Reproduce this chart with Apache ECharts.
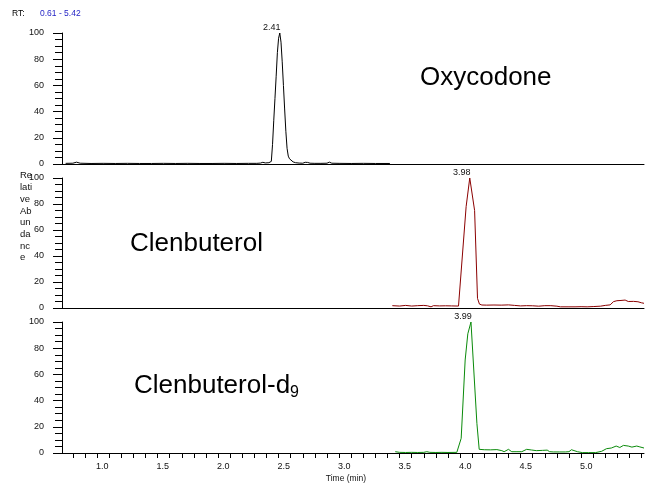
<!DOCTYPE html>
<html>
<head>
<meta charset="utf-8">
<script src="https://cdn.jsdelivr.net/npm/echarts@6/dist/echarts.min.js"></script>
<style>
  html, body { margin: 0; padding: 0; background: #fff; }
  #chart { width: 652px; height: 487px; }
</style>
</head>
<body>
<div id="chart"></div>
<script>
// Retention-time window shown on every trace (min)
const timeMin = 0.61;
const timeMax = 5.42;

// Oxycodone trace (time in min, relative abundance in %)
const oxyTime = [0.64, 0.70, 0.73, 0.76, 0.85, 0.95, 1.05, 1.15, 1.25, 1.35, 1.45, 1.55, 1.65, 1.75, 1.85, 1.95,
  2.05, 2.15, 2.22, 2.25, 2.27, 2.29, 2.32, 2.34, 2.35, 2.36, 2.37, 2.38, 2.39, 2.40, 2.41, 2.42, 2.43, 2.44,
  2.45, 2.46, 2.47, 2.48, 2.49, 2.50, 2.52, 2.54, 2.57, 2.60, 2.62, 2.63, 2.64, 2.66, 2.70, 2.75, 2.80, 2.82,
  2.84, 2.90, 3.00, 3.10, 3.20, 3.32];
const oxyAbund = [0.5, 0.6, 1.4, 0.6, 0.4, 0.5, 0.4, 0.5, 0.4, 0.4, 0.5, 0.4, 0.5, 0.4, 0.4, 0.5,
  0.4, 0.5, 0.5, 0.7, 1.3, 0.8, 1.0, 2.0, 15, 33, 50, 67, 85, 96, 100, 93, 78, 60,
  42, 25, 12, 6, 4, 2.6, 1.6, 1.0, 0.7, 0.6, 1.3, 0.6, 1.2, 0.6, 0.5, 0.5, 0.6, 1.4,
  0.6, 0.5, 0.4, 0.5, 0.4, 0.4];

// Clenbuterol trace
const clenTime = [3.34, 3.40, 3.45, 3.50, 3.55, 3.60, 3.63, 3.66, 3.68, 3.73, 3.78, 3.83, 3.887, 3.95, 3.98,
  4.02, 4.044, 4.06, 4.08, 4.12, 4.18, 4.24, 4.30, 4.35, 4.40, 4.45, 4.50, 4.55, 4.60, 4.65, 4.70, 4.73,
  4.80, 4.85, 4.90, 4.95, 5.00, 5.06, 5.10, 5.14, 5.168, 5.196, 5.23, 5.264, 5.29, 5.306, 5.333, 5.37, 5.40, 5.42];
const clenAbund = [1.8, 1.5, 2.0, 1.5, 1.8, 2.0, 1.7, 0.9, 1.8, 1.6, 1.7, 1.6, 1.5, 78, 100,
  75, 7.4, 3.0, 2.3, 2.2, 2.3, 2.2, 2.4, 2.0, 1.6, 1.8, 1.7, 1.4, 1.8, 1.8, 1.4, 0.9,
  0.9, 0.9, 1.0, 0.9, 1.1, 1.4, 2.0, 2.4, 4.9, 5.6, 5.8, 6.1, 5.0, 3.6, 5.1, 4.8, 4.0, 3.6];

// Clenbuterol-d9 trace
const clenD9Time = [3.364, 3.40, 3.45, 3.50, 3.55, 3.60, 3.625, 3.65, 3.70, 3.75, 3.80, 3.873, 3.909, 3.942,
  3.964, 3.99, 4.039, 4.058, 4.10, 4.15, 4.204, 4.245, 4.264, 4.30, 4.327, 4.37, 4.41, 4.45, 4.49, 4.53,
  4.58, 4.62, 4.64, 4.67, 4.72, 4.77, 4.80, 4.82, 4.87, 4.91, 4.96, 5.02, 5.07, 5.11, 5.15, 5.19, 5.22,
  5.25, 5.29, 5.32, 5.36, 5.38, 5.42];
const clenD9Abund = [1.0, 0.5, 0.4, 0.5, 0.4, 0.5, 1.0, 0.5, 0.4, 0.5, 0.4, 0.5, 11.2, 71,
  91, 100, 22.6, 2.8, 2.5, 2.4, 2.6, 1.8, 1.0, 2.8, 1.0, 1.0, 1.0, 2.8, 2.3, 1.8,
  2.0, 2.2, 1.0, 0.8, 0.8, 0.8, 1.0, 2.5, 1.0, 0.3, 0.3, 0.3, 1.3, 3.3, 3.8, 5.3, 4.2,
  5.8, 5.3, 4.5, 5.3, 4.8, 3.8];

// Axis ticks and labels
const timeTicks = [0.7, 0.8, 0.9, 1.0, 1.1, 1.2, 1.3, 1.4, 1.5, 1.6, 1.7, 1.8, 1.9, 2.0, 2.1, 2.2, 2.3, 2.4,
  2.5, 2.6, 2.7, 2.8, 2.9, 3.0, 3.1, 3.2, 3.3, 3.4, 3.5, 3.6, 3.7, 3.8, 3.9, 4.0, 4.1, 4.2, 4.3, 4.4, 4.5,
  4.6, 4.7, 4.8, 4.9, 5.0, 5.1, 5.2, 5.3, 5.4];
const timeLabels = [1.0, 1.5, 2.0, 2.5, 3.0, 3.5, 4.0, 4.5, 5.0];
const yTitleLines = ['Re', 'lati', 've', 'Ab', 'un', 'da', 'nc', 'e'];

const traces = [
  { name: 'Oxycodone', time: oxyTime, abund: oxyAbund, color: '#000000' },
  { name: 'Clenbuterol', time: clenTime, abund: clenAbund, color: '#8b0000' },
  { name: 'Clenbuterol-d9', time: clenD9Time, abund: clenD9Abund, color: '#0a8a0a' }
];

const FONT = '"Liberation Sans", Arial, sans-serif';
const TEXT = '#111';

const panels = [
  { top: 33, height: 131 },
  { top: 178, height: 130 },
  { top: 322, height: 131 }
];

const grid = panels.map(p => ({ left: 62, right: 8, top: p.top, height: p.height }));

const xAxis = panels.map((p, i) => {
  const last = i === panels.length - 1;
  return {
    gridIndex: i,
    type: 'value',
    min: timeMin,
    max: timeMax,
    axisLine: { show: true, onZero: false, lineStyle: { color: '#000', width: 1 } },
    axisTick: { show: last, customValues: timeTicks, length: 5, lineStyle: { color: '#000' } },
    axisLabel: {
      show: last, customValues: timeLabels, formatter: v => Number(v).toFixed(1),
      fontSize: 9, fontFamily: FONT, color: TEXT, margin: 9, padding: [0, 14, 0, 0]
    },
    splitLine: { show: false },
    name: last ? 'Time (min)' : '',
    nameLocation: 'middle',
    nameGap: 21,
    nameTextStyle: { fontSize: 8.5, fontFamily: FONT, color: TEXT, padding: [0, 14, 0, 0] }
  };
});

const yAxis = panels.map((p, i) => ({
  gridIndex: i,
  type: 'value',
  min: 0,
  max: 100,
  interval: 20,
  axisLine: { show: true, lineStyle: { color: '#000', width: 1 } },
  axisTick: { show: true, length: 9, lineStyle: { color: '#000' } },
  minorTick: { show: true, splitNumber: 4, length: 7, lineStyle: { color: '#000' } },
  axisLabel: { fontSize: 9, fontFamily: FONT, color: TEXT, margin: 18 },
  splitLine: { show: false }
}));

function peakOf(t, v) {
  let k = 0;
  for (let j = 1; j < v.length; j++) if (v[j] > v[k]) k = j;
  return { t: t[k], v: v[k] };
}

const series = traces.map((tr, i) => {
  const pk = peakOf(tr.time, tr.abund);
  return {
    type: 'line',
    name: tr.name,
    xAxisIndex: i,
    yAxisIndex: i,
    data: tr.time.map((t, j) => [t, tr.abund[j]]),
    showSymbol: false,
    lineStyle: { color: tr.color, width: 1 },
    itemStyle: { color: tr.color },
    silent: true,
    markPoint: {
      symbol: 'circle',
      symbolSize: 0.1,
      itemStyle: { color: 'rgba(0,0,0,0)' },
      label: {
        show: true, position: 'top', distance: 1, offset: [-8, 0],
        fontSize: 9, fontFamily: FONT, color: TEXT, formatter: '{c}'
      },
      data: [{ coord: [pk.t, pk.v], value: pk.t.toFixed(2) }]
    }
  };
});

const graphic = [
  { type: 'text', x: 12, y: 14, style: { text: 'RT:', font: '8.5px ' + FONT, fill: '#000', textVerticalAlign: 'middle' } },
  { type: 'text', x: 40, y: 14, style: { text: timeMin.toFixed(2) + ' - ' + timeMax.toFixed(2), font: '8.5px ' + FONT, fill: '#1f1fc4', textVerticalAlign: 'middle' } },
  { type: 'text', x: 20, y: 170, style: { text: yTitleLines.join('\n'), font: '9.5px ' + FONT, lineHeight: 11.7, fill: TEXT } },
  { type: 'text', x: 420, y: 78, style: { text: 'Oxycodone', font: '26px ' + FONT, fill: '#000', textVerticalAlign: 'middle' } },
  { type: 'text', x: 130, y: 244, style: { text: 'Clenbuterol', font: '26px ' + FONT, fill: '#000', textVerticalAlign: 'middle' } },
  {
    type: 'text', x: 134, y: 386,
    style: {
      text: '{m|Clenbuterol-d}{s|9}', fill: '#000', textVerticalAlign: 'middle',
      rich: {
        m: { fontSize: 26, fontFamily: FONT, lineHeight: 30, color: '#000' },
        s: { fontSize: 16, fontFamily: FONT, lineHeight: 16, verticalAlign: 'bottom', color: '#000' }
      }
    }
  }
];

const chart = echarts.init(document.getElementById('chart'), null, { renderer: 'canvas' });
chart.setOption({
  animation: false,
  backgroundColor: '#fff',
  grid,
  xAxis,
  yAxis,
  series,
  graphic
});
</script>
</body>
</html>
